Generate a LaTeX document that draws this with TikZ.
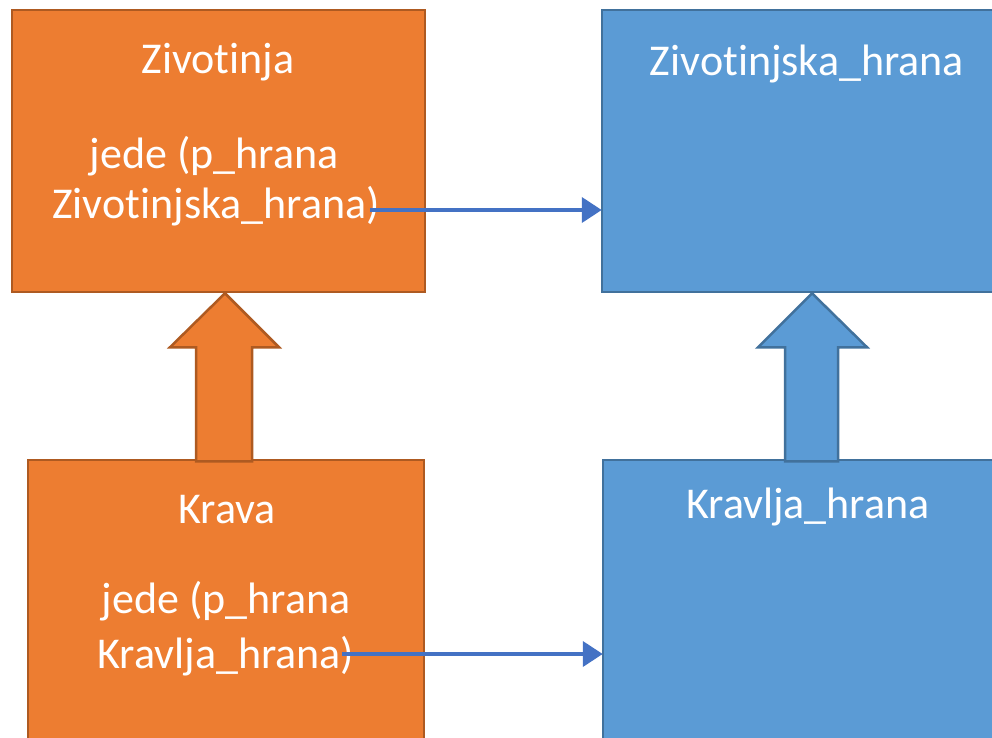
\documentclass[tikz,border=0pt]{standalone}
\usepackage{fontspec}
\setmainfont[Ligatures={NoCommon,NoRare,NoContextual}]{Carlito}
\usetikzlibrary{arrows.meta}
\definecolor{ofill}{HTML}{ED7D31}
\definecolor{oline}{HTML}{AE5A21}
\definecolor{bfill}{HTML}{5B9BD5}
\definecolor{bline}{HTML}{41719C}
\definecolor{conn}{HTML}{4472C4}
\tikzset{
  obox/.style={rectangle, draw=oline, fill=ofill, line width=2.5pt, inner sep=0pt},
  bbox/.style={rectangle, draw=bline, fill=bfill, line width=2.5pt, inner sep=0pt},
  lbl/.style={anchor=base, text=white, inner sep=0pt, font=\fontsize{44}{52}\selectfont},
  oblock/.style={draw=oline, fill=ofill, line width=2.5pt, line join=miter},
  bblock/.style={draw=bline, fill=bfill, line width=2.5pt, line join=miter},
  conarrow/.style={draw=conn, line width=4pt, -{Triangle[length=20pt,width=25pt]}, shorten >=-1pt}
}
\begin{document}
\begin{tikzpicture}[x=1pt,y=-1pt]
\useasboundingbox (0,0) rectangle (992,737);
\clip (0,0) rectangle (992,737);
% boxes
\node[obox, minimum width=413pt, minimum height=282pt] (ziv) at (218.5,151) {};
\node[bbox, minimum width=410pt, minimum height=282pt] (zivh) at (807,151) {};
\node[obox, minimum width=396pt, minimum height=300pt] (krava) at (226,610) {};
\node[bbox, minimum width=410pt, minimum height=300pt] (kravh) at (808,610) {};
% texts
\node[lbl] (t1) at (218,73) {Zivotinja};
\node[lbl] (t2) at (214,168) {jede (p\_hrana};
\node[lbl] (t3) at (216,218) {Zivotinjska\_hrana)};
\node[lbl] (t4) at (807,75) {Zivotinjska\_hrana};
\node[lbl] (t5) at (227,523) {Krava};
\node[lbl] (t6) at (226,613) {jede (p\_hrana};
\node[lbl] (t7) at (226,668) {Kravlja\_hrana)};
\node[lbl] (t8) at (808,518) {Kravlja\_hrana};
% block arrows (inheritance)
\coordinate (otip) at (krava.north |- ziv.south);
\draw[oblock] ([xshift=-1pt]otip) -- ++(54,54) -- ++(-27,0) -- ++(0,114) -- ++(-56,0) -- ++(0,-114) -- ++(-26,0) -- cycle;
\coordinate (btip) at (812,292);
\draw[bblock] (btip |- zivh.south) -- ++(55,54) -- ++(-29,0) -- ++(0,114) -- ++(-53,0) -- ++(0,-114) -- ++(-27,0) -- cycle;
% connectors
\coordinate (s1) at (370,210);
\coordinate (s2) at (342,654);
\draw[conarrow] (s1) -- (s1 -| zivh.west);
\draw[conarrow] (s2) -- (s2 -| kravh.west);
\end{tikzpicture}
\end{document}
